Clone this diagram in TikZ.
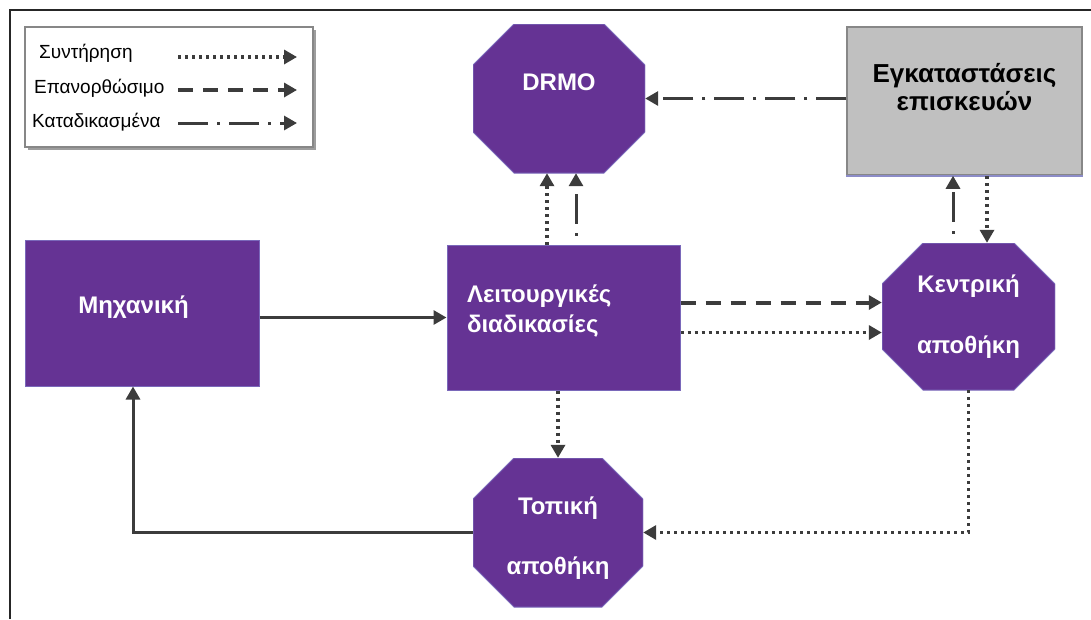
\documentclass[tikz,border=0pt]{standalone}
\usepackage{fontspec}
\setmainfont{Liberation Sans}
\usetikzlibrary{arrows.meta,shadows}

\definecolor{purp}{RGB}{101,51,148}
\definecolor{purpedge}{RGB}{122,104,186}
\definecolor{linegrey}{RGB}{60,60,60}
\definecolor{boxgrey}{RGB}{192,192,192}
\definecolor{boxedge}{RGB}{135,135,135}
\definecolor{boxblue}{RGB}{140,140,200}

\begin{document}
\begin{tikzpicture}[x=1pt,y=-1pt,
  link/.style={draw=linegrey,-{Triangle[length=13pt,width=14pt]}},
  solidlink/.style={link,line width=3pt},
  dotlink/.style={link,line width=3.5pt,dash pattern=on 3pt off 4pt},
  dashlink/.style={link,line width=4pt,dash pattern=on 15pt off 10pt},
  dashdotlink/.style={link,line width=3pt,dash pattern=on 30pt off 9pt on 3pt off 9pt},
  nodefont/.style={font=\bfseries\fontsize{24}{29}\selectfont},
  pbox/.style={rectangle,fill=purp,draw=purpedge,line width=1pt,inner sep=0pt,
    text=white,nodefont},
  greybox/.style={rectangle,fill=boxgrey,draw=boxedge,line width=1.5pt,inner sep=0pt,
    text=black,align=center,font=\bfseries\fontsize{26}{28}\selectfont},
  octnode/.style={rectangle,inner sep=0pt,text=white,nodefont,align=center,
    path picture={
      \fill[purp,draw=purpedge,line width=1pt]
        ([xshift=41pt]path picture bounding box.north west)
        -- ([xshift=-41pt]path picture bounding box.north east)
        -- ([yshift=-41pt]path picture bounding box.north east)
        -- ([yshift=41pt]path picture bounding box.south east)
        -- ([xshift=-41pt]path picture bounding box.south east)
        -- ([xshift=41pt]path picture bounding box.south west)
        -- ([yshift=41pt]path picture bounding box.south west)
        -- ([yshift=-41pt]path picture bounding box.north west) -- cycle;}},
  legendbox/.style={rectangle,fill=white,draw=boxedge,line width=1.5pt,
    drop shadow={shadow xshift=3pt,shadow yshift=-3pt,fill=black!55,opacity=0.7}},
  legtext/.style={font=\fontsize{19}{22}\selectfont,inner sep=0pt,text=black,anchor=west}
]
\useasboundingbox (0,0) rectangle (1091,619);

% outer frame
\draw[line width=2pt,black!85] (10,619) -- (10,10) -- (1091,10);

% legend
\node[legendbox,minimum width=288pt,minimum height=120pt] (legend) at (169,87) {};
\node[legtext] (k1) at (39,53) {Συντήρηση};
\node[legtext] (k2) at (34,88) {Επανορθώσιμο};
\node[legtext] (k3) at (32,122) {Καταδικασμένα};
\coordinate (s1) at (178,57); \coordinate (e1) at (297,57);
\coordinate (s2) at (178,90); \coordinate (e2) at (297,90);
\coordinate (s3) at (178,123); \coordinate (e3) at (297,123);
\draw[dotlink] (s1) -- (e1);
\draw[dashlink] (s2) -- (e2);
\draw[dashdotlink] (s3) -- (e3);

% blocks
\node[octnode,minimum width=172pt,minimum height=149pt,text height=17pt,text depth=33pt]
  (drmo) at (559,98.5) {DRMO};
\node[greybox,minimum width=235pt,minimum height=148pt,text height=28pt,text depth=10pt]
  (repair) at (964.5,101) {Εγκαταστάσεις\\επισκευών};
\draw[boxblue,line width=1.5pt] (repair.south west) -- (repair.south east);
\node[pbox,minimum width=234pt,minimum height=146pt,text height=18pt,text depth=18pt]
  (mech) at (142,313) {\kern-8.5pt\makebox[0pt]{Μηχανική}\kern8.5pt};
\node[pbox,minimum width=233pt,minimum height=145pt,text width=193pt,align=left,
  inner xsep=20pt,text height=18pt,text depth=49pt,font=\bfseries\fontsize{24}{30}\selectfont]
  (func) at (563.5,317.5) {Λειτουργικές\\διαδικασίες};
\node[octnode,minimum width=173pt,minimum height=147pt]
  (cen) at (968.5,316.5) {Κεντρική\\[32pt]αποθήκη};
\node[octnode,minimum width=170pt,minimum height=149pt,text height=84pt,text depth=0pt]
  (top) at (558,532.5) {Τοπική\\[31pt]αποθήκη};

% flows
\draw[solidlink] (mech.east |- func.west) -- (func.west);
\draw[dotlink] ([xshift=-16.5pt]func.north) -- ([xshift=-16.5pt]func.north |- drmo.south);
\draw[dashdotlink,dash phase=30pt] ([xshift=12.5pt]func.north) -- ([xshift=12.5pt]func.north |- drmo.south);
\draw[dashlink] ([yshift=15pt]func.east) -- ([yshift=15pt]func.east -| cen.west);
\draw[dotlink] ([yshift=-15pt]func.east) -- ([yshift=-15pt]func.east -| cen.west);
\draw[dashdotlink,dash phase=30pt] ([xshift=-15.5pt]cen.north) -- ([xshift=-15.5pt]cen.north |- repair.south);
\draw[dotlink] ([xshift=18.5pt]cen.north |- repair.south) -- ([xshift=18.5pt]cen.north);
\draw[dashdotlink] (repair.west |- drmo.east) -- (drmo.east);
\draw[dotlink] (func.south -| top.north) -- (top.north);
\draw[dotlink] (cen.south) |- (top.east);
\draw[solidlink] (top.west) -| ([xshift=-9pt]mech.south);
\end{tikzpicture}
\end{document}
